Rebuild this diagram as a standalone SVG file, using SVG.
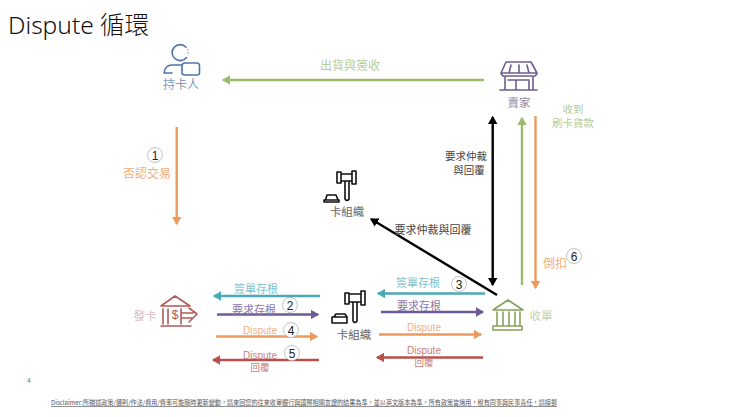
<svg xmlns="http://www.w3.org/2000/svg" width="740" height="417" viewBox="0 0 740 417">
<style>
text{font-family:"Noto Sans CJK TC","Noto Sans","Liberation Sans",sans-serif;text-anchor:middle;font-size:11px}
.t{fill:#666}.k{fill:#444}
.lg{fill:#b5cc9a;font-size:12px}.lo{fill:#eeb07f;font-size:12px}.lt{fill:#7fc2cb}.lp{fill:#8b78a8}.lr{fill:#c77e7c}
.d{font-size:10px;font-family:"Liberation Sans",sans-serif}
.c{stroke-width:2.4;fill:none}
.num{fill:#fff;stroke:#aaa;stroke-width:.7}
.nt{fill:#222;font-size:12px;font-family:"Liberation Sans",sans-serif}
.ic{fill:none;stroke-width:1.6;stroke-linejoin:round;stroke-linecap:round}
</style>
<defs>
<marker id="ag" markerWidth="4" markerHeight="4" refX="3" refY="2" orient="auto-start-reverse"><path d="M0 0L3.5 2L0 4z" fill="#9abb6b"/></marker>
<marker id="ao" markerWidth="4" markerHeight="4" refX="3" refY="2" orient="auto-start-reverse"><path d="M0 0L3.5 2L0 4z" fill="#ee9a5c"/></marker>
<marker id="at" markerWidth="4" markerHeight="4" refX="3" refY="2" orient="auto-start-reverse"><path d="M0 0L3.5 2L0 4z" fill="#4ba9b5"/></marker>
<marker id="ap" markerWidth="4" markerHeight="4" refX="3" refY="2" orient="auto-start-reverse"><path d="M0 0L3.5 2L0 4z" fill="#6c5b98"/></marker>
<marker id="ar" markerWidth="4" markerHeight="4" refX="3" refY="2" orient="auto-start-reverse"><path d="M0 0L3.5 2L0 4z" fill="#b9504e"/></marker>
<marker id="ak" markerWidth="4" markerHeight="4" refX="3" refY="2" orient="auto-start-reverse"><path d="M0 0L3.5 2L0 4z" fill="#000"/></marker>
</defs>

<text x="8" y="34" style="text-anchor:start;font-size:24.500px;font-family:'Noto Sans','Noto Sans CJK TC',sans-serif;font-weight:300" fill="#111">Dispute 循環</text>
<text x="29" y="383" style="font-size:6px" fill="#666">4</text>
<text x="51" y="405" textLength="506" lengthAdjust="spacingAndGlyphs" style="text-anchor:start;font-size:6.400px;text-decoration:underline" fill="#555">Disclaimer:所描述政策/通則/作法/費用/費率可能隨時更新變動，請來回您的往來收單銀行與國際相關查證的結果為準，並以英文版本為準，所有政策皆適用，稅有同事與民事責任，請接郵</text>

<g id="connectors">
<line class="c" x1="484" y1="80" x2="223" y2="80" stroke="#9abb6b" marker-end="url(#ag)"/>
<line class="c" x1="176.700" y1="127" x2="176.700" y2="224" stroke="#ee9a5c" marker-end="url(#ao)"/>
<line class="c" x1="492.700" y1="117" x2="492.700" y2="285" stroke="#000" marker-start="url(#ak)" marker-end="url(#ak)"/>
<line class="c" x1="522" y1="285" x2="522" y2="118" stroke="#9abb6b" marker-end="url(#ag)"/>
<line class="c" x1="535.500" y1="116" x2="535.500" y2="288" stroke="#ee9a5c" marker-end="url(#ao)"/>
<line class="c" x1="497" y1="295" x2="371" y2="219" stroke="#000" marker-end="url(#ak)"/>
<line class="c" x1="320" y1="296" x2="214" y2="296" stroke="#4ba9b5" marker-end="url(#at)"/>
<line class="c" x1="217" y1="314.500" x2="318" y2="314.500" stroke="#6c5b98" marker-end="url(#ap)"/>
<line class="c" x1="216" y1="336.500" x2="317" y2="336.500" stroke="#ee9a5c" marker-end="url(#ao)"/>
<line class="c" x1="319" y1="360" x2="213" y2="360" stroke="#b9504e" marker-end="url(#ar)"/>
<line class="c" x1="485" y1="293.500" x2="378" y2="293.500" stroke="#4ba9b5" marker-end="url(#at)"/>
<line class="c" x1="381" y1="312" x2="483" y2="312" stroke="#6c5b98" marker-end="url(#ap)"/>
<line class="c" x1="379" y1="334.500" x2="481" y2="334.500" stroke="#ee9a5c" marker-end="url(#ao)"/>
<line class="c" x1="483" y1="357.500" x2="377" y2="357.500" stroke="#b9504e" marker-end="url(#ar)"/>
</g>

<g id="connector-labels">
<text x="350" y="70" class="lg">出貨與簽收</text>
<text x="147" y="178" class="lo">否認交易</text>
<text class="lg" style="font-size:10.500px"><tspan x="573" y="112.500">收到</tspan><tspan x="573" y="126.500">刷卡貨款</tspan></text>
<text class="k" style="font-size:10.500px"><tspan x="466" y="160">要求仲裁</tspan><tspan x="469" y="174">與回覆</tspan></text>
<text x="433" y="234" class="k">要求仲裁與回覆</text>
<text x="555" y="268" class="lo">倒扣</text>
<text x="256" y="293" class="lt">簽單存根</text>
<text x="254" y="314" class="lp">要求存根</text>
<text x="260" y="334" class="lo d">Dispute</text>
<text class="lr"><tspan x="260" y="359" class="d">Dispute</tspan><tspan x="260" y="371" style="font-size:9.500px">回覆</tspan></text>
<text x="418" y="287" class="lt">簽單存根</text>
<text x="419" y="310" class="lp">要求存根</text>
<text x="424" y="331" class="lo d">Dispute</text>
<text class="lr"><tspan x="424" y="354" class="d">Dispute</tspan><tspan x="424" y="366" style="font-size:9.500px">回覆</tspan></text>
</g>

<g id="markers">
<circle class="num" cx="155" cy="155" r="7.500"/><text class="nt" x="155" y="159.500">1</text>
<circle class="num" cx="290" cy="305" r="7.500"/><text class="nt" x="290" y="309.500">2</text>
<circle class="num" cx="459" cy="284" r="7.500"/><text class="nt" x="459" y="288.500">3</text>
<circle class="num" cx="291" cy="330" r="7.500"/><text class="nt" x="291" y="334.500">4</text>
<circle class="num" cx="292" cy="353" r="7.500"/><text class="nt" x="292" y="357.500">5</text>
<circle class="num" cx="574" cy="256" r="7.500"/><text class="nt" x="574" y="260.500">6</text>
</g>

<g id="cardholder">
<path class="ic" stroke="#4f74a8" d="M186 47.200A8 8 0 1 0 186.500 57.500M164 73Q165 65 172 65H182M182 73V66Q182 63 185 63H197Q199.500 63 199.500 66V73Q199.500 75 197 75H185Q182 75 182 73ZM164 73H172"/>
<path d="M187.500 49.500A8 8 0 0 1 187.800 55.500" fill="none" stroke="#4f74a8" stroke-width="1.200" stroke-dasharray="1 2"/>
<text x="181" y="89" fill="#7f98bb" style="font-size:12px">持卡人</text>
</g>

<g id="seller">
<path class="ic" stroke="#6d5e8e" d="M506 62H531L537 73H501ZM501 73Q502 77 506 76H532Q536 77 537 73M505 77V89M533 77V89M500 90H537M508 80H516V89M516 80H529V89M511 65L509 73M519 65V73M527 65L529 73"/>
<text x="519" y="107" fill="#8f88a6" style="font-size:11.500px">賣家</text>
</g>

<g id="issuer">
<path class="ic" stroke="#b05a58" d="M161 306L175 296L190 306ZM163 309V324M168 309V324M181 309V324M182 313H193M182 318H192M189 308L197 314L189 322M161 326H191"/>
<text x="175" y="319" fill="#a8554f" style="font-size:12px;font-family:'Liberation Sans',sans-serif">$</text>
<text x="145" y="320" fill="#dcbcbc" style="font-size:11.500px">發卡</text>
</g>

<g id="acquirer">
<path class="ic" stroke="#86a35a" d="M493 310L508 300L523 310ZM497 312V326M503 312V326M509 312V326M515 312V326M520 312V326M493 330H522V326H493Z"/>
<text x="541" y="320" fill="#c4d3ae" style="font-size:11.500px">收單</text>
</g>

<g id="card-network-top">
<path class="ic" stroke="#111" stroke-width="1.500" d="M337 172H341V183H337ZM352 171H356V184H352ZM341 174H352V181H341ZM345 181H349V199Q347 202 345 199ZM324 200H339V202H324ZM325.500 200L327 195H336L338 200"/>
<text x="347" y="216" class="t" style="font-size:11.500px">卡組織</text>
</g>

<g id="card-network-bottom">
<path class="ic" stroke="#111" stroke-width="1.500" d="M345 293H349V304H345ZM361 291H365V305H361ZM349 294H361V302H349ZM353 302H357V321Q355 324 353 321ZM332 317H347V323H332ZM334 317L336 314H345L347 317"/>
<text x="354" y="339" class="t" style="font-size:11.500px">卡組織</text>
</g>
</svg>
